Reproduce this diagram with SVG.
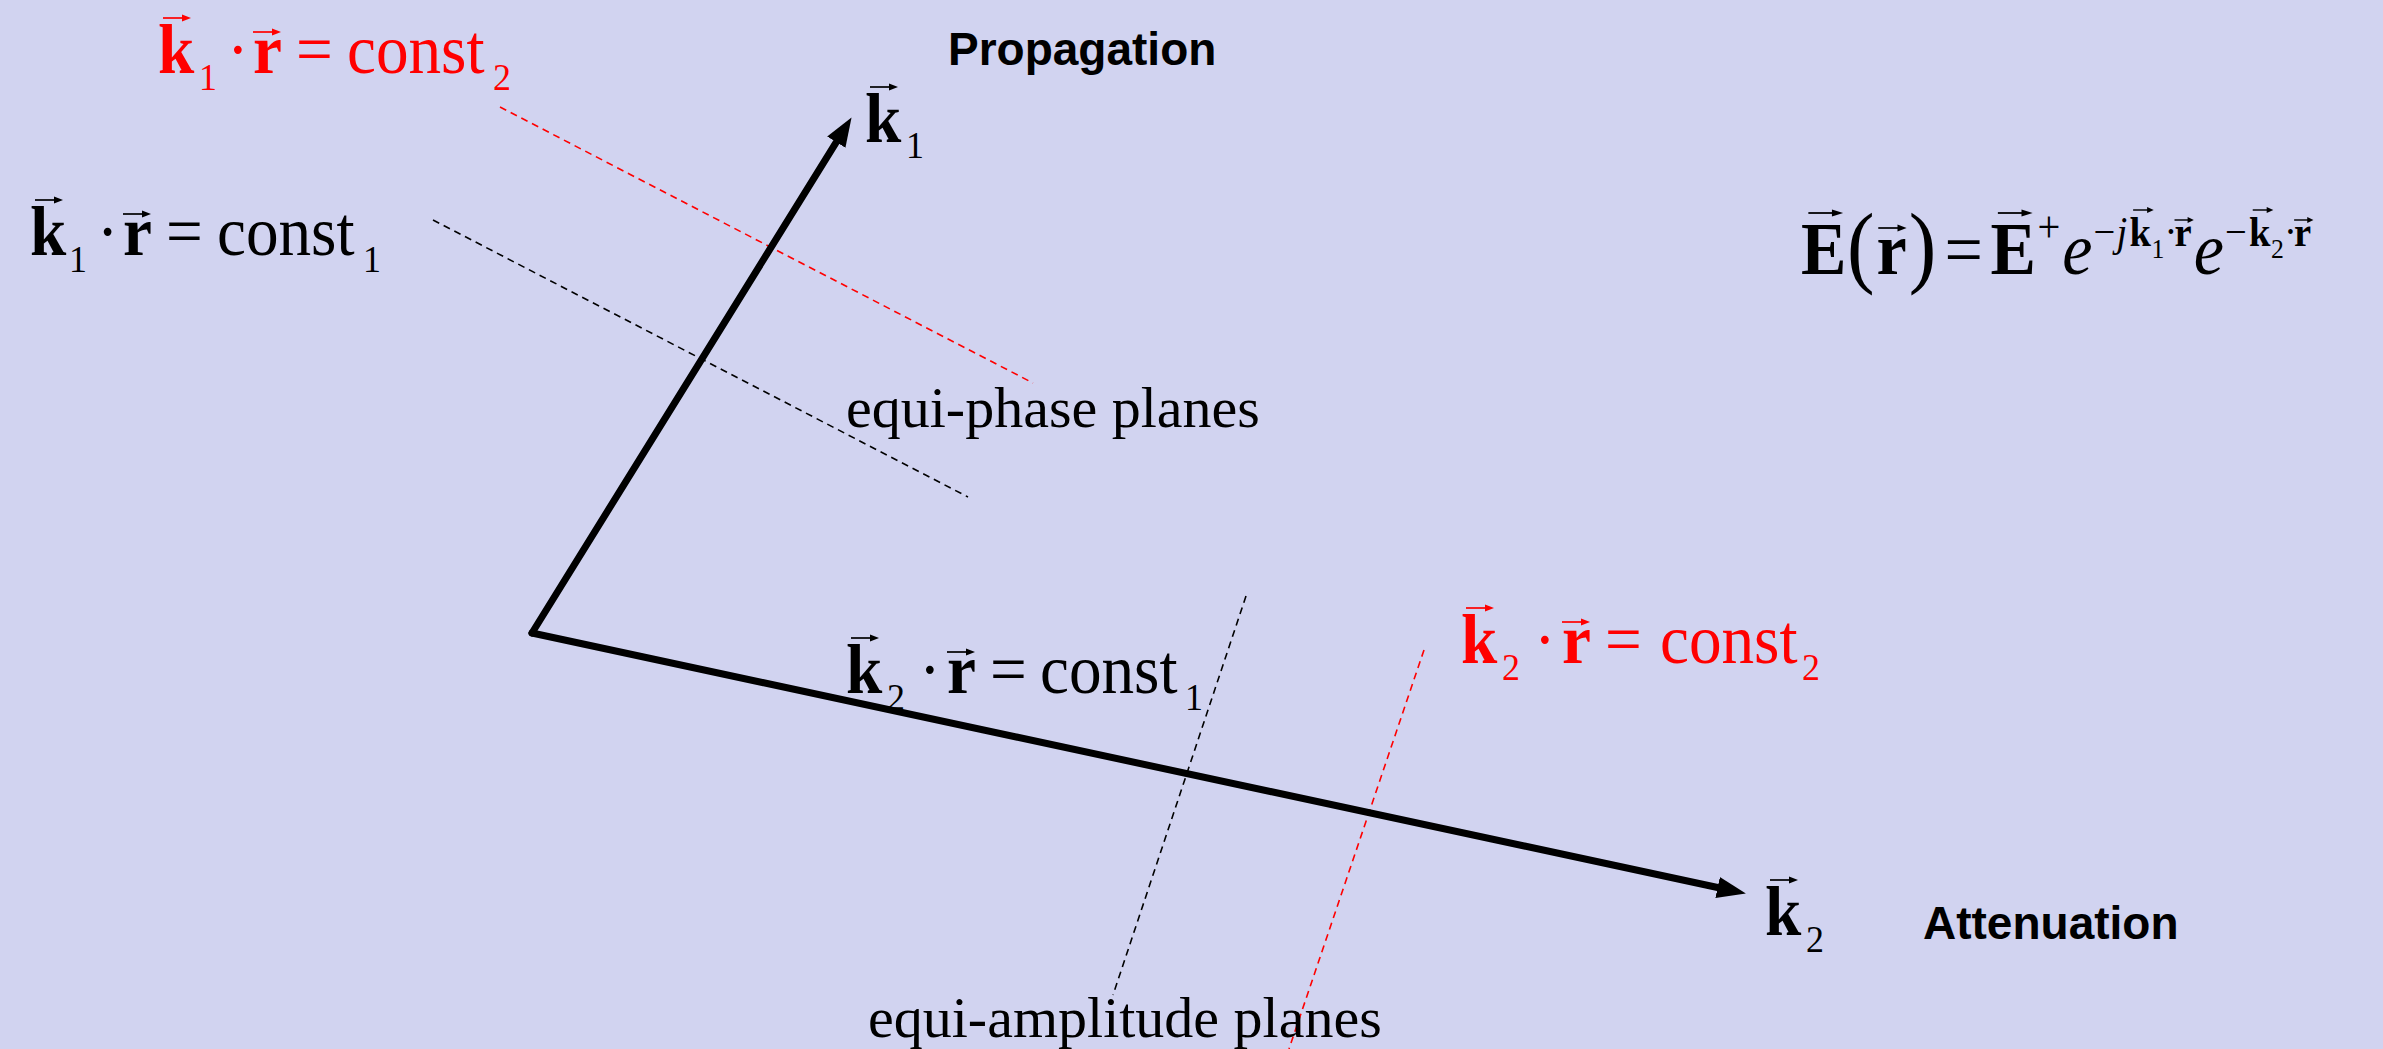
<svg xmlns="http://www.w3.org/2000/svg" xmlns:xlink="http://www.w3.org/1999/xlink" width="2383" height="1049" viewBox="0 0 2383 1049">
<style>
.m{font-family:"Liberation Serif","Times New Roman",serif;font-size:69px;fill:#000}
.red{fill:#ff0000}
.b{font-weight:bold}
.s{font-size:38px}
.lab{font-family:"Liberation Sans",Arial,sans-serif;font-size:46px;font-weight:bold;fill:#000}
.cap{font-family:"Liberation Serif","Times New Roman",serif;font-size:58px;fill:#000}
.vec{stroke-width:7;stroke:#000;fill:none;stroke-linecap:round}
.dash{stroke-width:1.6;stroke-dasharray:7 5;fill:none}
</style>
<defs>
<g id="va"><line x1="0" y1="0" x2="21" y2="0" stroke="currentColor" stroke-width="1.7"/><path d="M19,-3.4 L28,0 L19,3.4 z" fill="currentColor"/></g>
<marker id="ah" markerUnits="userSpaceOnUse" markerWidth="30" markerHeight="24" refX="0" refY="10" orient="auto" viewBox="0 0 28 20"><path d="M0,0 L27,10 L0,20 z" fill="#000"/></marker>
</defs>
<rect width="2383" height="1049" fill="#d1d3f0"/>

<g id="connectors">
<line class="dash" x1="500" y1="107" x2="1033" y2="383" stroke="#ff0000"/>
<line class="dash" x1="433" y1="220" x2="968" y2="497" stroke="#000"/>
<line class="dash" x1="1246" y1="596" x2="1113" y2="995" stroke="#000"/>
<line class="dash" x1="1424" y1="650" x2="1289" y2="1049" stroke="#ff0000"/>
<line id="k1-vector" class="vec" x1="532" y1="633" x2="836.3" y2="142.1" marker-end="url(#ah)"/>
<line id="k2-vector" class="vec" x1="532" y1="633" x2="1717.6" y2="887.5" marker-end="url(#ah)"/>
</g>

<g id="k1r-const2" style="color:#ff0000">
<text class="m red" y="73" transform="scale(0.945 1)"><tspan class="b" x="167.2">k</tspan><tspan class="s" x="210.6" y="90">1</tspan><tspan x="240.1" y="73">·</tspan><tspan class="b" x="267.7">r</tspan><tspan x="313.2">=</tspan><tspan x="367.2">const</tspan><tspan class="s" x="521.7" y="90">2</tspan></text>
<use xlink:href="#va" x="163" y="18"/><use xlink:href="#va" x="253" y="32"/>
</g>

<g id="k1r-const1" style="color:#000">
<text class="m" y="255" transform="scale(0.945 1)"><tspan class="b" x="31.7">k</tspan><tspan class="s" x="73" y="272">1</tspan><tspan x="102.5" y="255">·</tspan><tspan class="b" x="130.2">r</tspan><tspan x="175.7">=</tspan><tspan x="229.6">const</tspan><tspan class="s" x="384.1" y="272">1</tspan></text>
<use xlink:href="#va" x="35" y="200"/><use xlink:href="#va" x="123" y="214"/>
</g>

<g id="k2r-const1" style="color:#000">
<text class="m" y="693" transform="scale(0.945 1)"><tspan class="b" x="895.2">k</tspan><tspan class="s" x="938.6" y="710">2</tspan><tspan x="972.4" y="693">·</tspan><tspan class="b" x="1002.1">r</tspan><tspan x="1047.6">=</tspan><tspan x="1100.5">const</tspan><tspan class="s" x="1254" y="710">1</tspan></text>
<use xlink:href="#va" x="851" y="638"/><use xlink:href="#va" x="947" y="652"/>
</g>

<g id="k2r-const2" style="color:#ff0000">
<text class="m red" y="663" transform="scale(0.945 1)"><tspan class="b" x="1546">k</tspan><tspan class="s" x="1589.4" y="680">2</tspan><tspan x="1623.2" y="663">·</tspan><tspan class="b" x="1652.9">r</tspan><tspan x="1698.4">=</tspan><tspan x="1756.6">const</tspan><tspan class="s" x="1906.9" y="680">2</tspan></text>
<use xlink:href="#va" x="1466" y="608"/><use xlink:href="#va" x="1562" y="622"/>
</g>

<g id="k1-label" style="color:#000">
<text class="m" y="142" transform="scale(0.945 1)"><tspan class="b" x="915.3">k</tspan><tspan class="s" x="958.7" y="158">1</tspan></text>
<use xlink:href="#va" x="870" y="87"/>
</g>

<g id="k2-label" style="color:#000">
<text class="m" y="935" transform="scale(0.945 1)"><tspan class="b" x="1867.7">k</tspan><tspan class="s" x="1911.1" y="952">2</tspan></text>
<use xlink:href="#va" x="1770" y="880"/>
</g>

<g id="propagation"><text class="lab" x="948" y="65">Propagation</text></g>
<g id="attenuation"><text class="lab" x="1923" y="939">Attenuation</text></g>
<g id="equi-phase"><text class="cap" x="846" y="427">equi-phase planes</text></g>
<g id="equi-amplitude"><text class="cap" x="868" y="1037">equi-amplitude planes</text></g>

<g id="field-equation" transform="translate(1801 274) scale(0.92 1)" style="color:#000">
<text class="m" style="font-size:74px" y="0">
<tspan class="b" x="0">E</tspan><tspan x="50" y="2" style="font-size:90px">(</tspan><tspan class="b" x="82" y="0">r</tspan><tspan x="117" y="2" style="font-size:90px">)</tspan><tspan x="156" y="0">=</tspan><tspan class="b" x="206">E</tspan><tspan x="257" y="-32" style="font-size:44px">+</tspan><tspan x="284" y="0" style="font-style:italic">e</tspan><tspan x="318" y="-28" style="font-size:42px">−</tspan><tspan x="343" style="font-size:42px;font-style:italic">j</tspan><tspan class="b" x="357" style="font-size:42px">k</tspan><tspan x="381" y="-16" style="font-size:28px">1</tspan><tspan x="395" y="-28" style="font-size:42px">·</tspan><tspan class="b" x="406" style="font-size:42px">r</tspan><tspan x="427" y="0" style="font-style:italic">e</tspan><tspan x="461" y="-28" style="font-size:42px">−</tspan><tspan class="b" x="487" style="font-size:42px">k</tspan><tspan x="511" y="-16" style="font-size:28px">2</tspan><tspan x="525" y="-28" style="font-size:42px">·</tspan><tspan class="b" x="536" style="font-size:42px">r</tspan>
</text>
<use xlink:href="#va" transform="translate(8 -61) scale(1.35 1.05)"/>
<use xlink:href="#va" transform="translate(84 -46) scale(1.1 1)"/>
<use xlink:href="#va" transform="translate(214 -61) scale(1.35 1.05)"/>
<use xlink:href="#va" transform="translate(361 -64) scale(0.8 0.85)"/>
<use xlink:href="#va" transform="translate(406 -54) scale(0.75 0.85)"/>
<use xlink:href="#va" transform="translate(491 -64) scale(0.8 0.85)"/>
<use xlink:href="#va" transform="translate(536 -54) scale(0.75 0.85)"/>
</g>
</svg>
